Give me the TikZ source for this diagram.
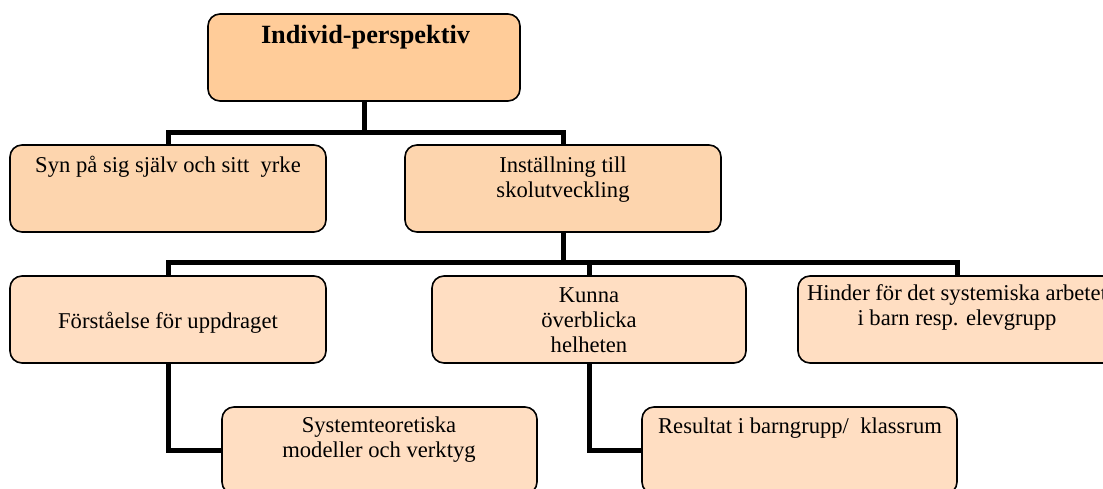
\documentclass[tikz,border=0pt]{standalone}
\usepackage{fontspec}
\setmainfont{Liberation Serif}
\definecolor{topfill}{HTML}{FFCC99}
\definecolor{midfill}{HTML}{FDD5AE}
\definecolor{lowfill}{HTML}{FFDEC2}
\begin{document}
\begin{tikzpicture}[x=1pt,y=-1pt,
  box/.style={draw=black, line width=1.6pt, rounded corners=12pt, inner sep=0pt, minimum height=87pt},
  lvltop/.style={box, fill=topfill},
  lvlmid/.style={box, fill=midfill},
  lvllow/.style={box, fill=lowfill},
  txt/.style={font=\fontsize{22.6}{25}\selectfont, align=center, inner sep=0pt},
  link/.style={draw=black, line width=5pt}]
\clip (0,0) rectangle (1103,488);

% boxes
\node[lvltop, minimum width=312pt] (top) at (364,57.5) {};
\node[lvlmid, minimum width=316pt] (A) at (168,188.5) {};
\node[lvlmid, minimum width=316pt] (B) at (563,188.5) {};
\node[lvllow, minimum width=316pt] (C) at (168,319.5) {};
\node[lvllow, minimum width=314pt] (D) at (589,319.5) {};
\node[lvllow, minimum width=318pt] (E) at (957,319.5) {};
\node[lvllow, minimum width=315pt] (F) at (379.5,450.5) {};
\node[lvllow, minimum width=315pt] (G) at (799.5,450.5) {};

% texts
\node[txt, font=\fontsize{26.3}{30}\selectfont\bfseries, anchor=base] (top-t) at (365.5,43) {Individ-perspektiv};
\node[txt, anchor=base] (A-t) at (168,172) {Syn på sig själv och sitt\ \ yrke};
\node[txt, anchor=north] (B-t) at (563,154.5) {\strut Inställning till\\skolutveckling};
\node[txt, anchor=base] (C-t) at (168,328) {Förståelse för uppdraget};
\node[txt, anchor=north] (D-t) at (589,284.5) {\strut Kunna\\överblicka\\helheten};
\node[txt, anchor=north] (E-t) at (957,282.5) {\strut Hinder för det systemiska arbetet\\i barn resp. elevgrupp};
\node[txt, anchor=north] (F-t) at (379,414.5) {\strut Systemteoretiska\\modeller och verktyg};
\node[txt, anchor=base] (G-t) at (800,433) {Resultat i barngrupp/\ \ klassrum};

% connectors
\coordinate (bar1) at (0,132.5);
\coordinate (bar2) at (0,262.5);
\draw[link] (top.south) -- (top.south |- bar1);
\draw[link] (A.north) |- (B.north |- bar1) -- (B.north);
\draw[link] (B.south) -- (B.south |- bar2);
\draw[link] (C.north) |- (E.north |- bar2) -- (E.north);
\draw[link] (D.north) -- (D.north |- bar2);
\draw[link] (C.south) |- (F.west);
\draw[link] (D.south) |- (G.west);
\end{tikzpicture}
\end{document}
